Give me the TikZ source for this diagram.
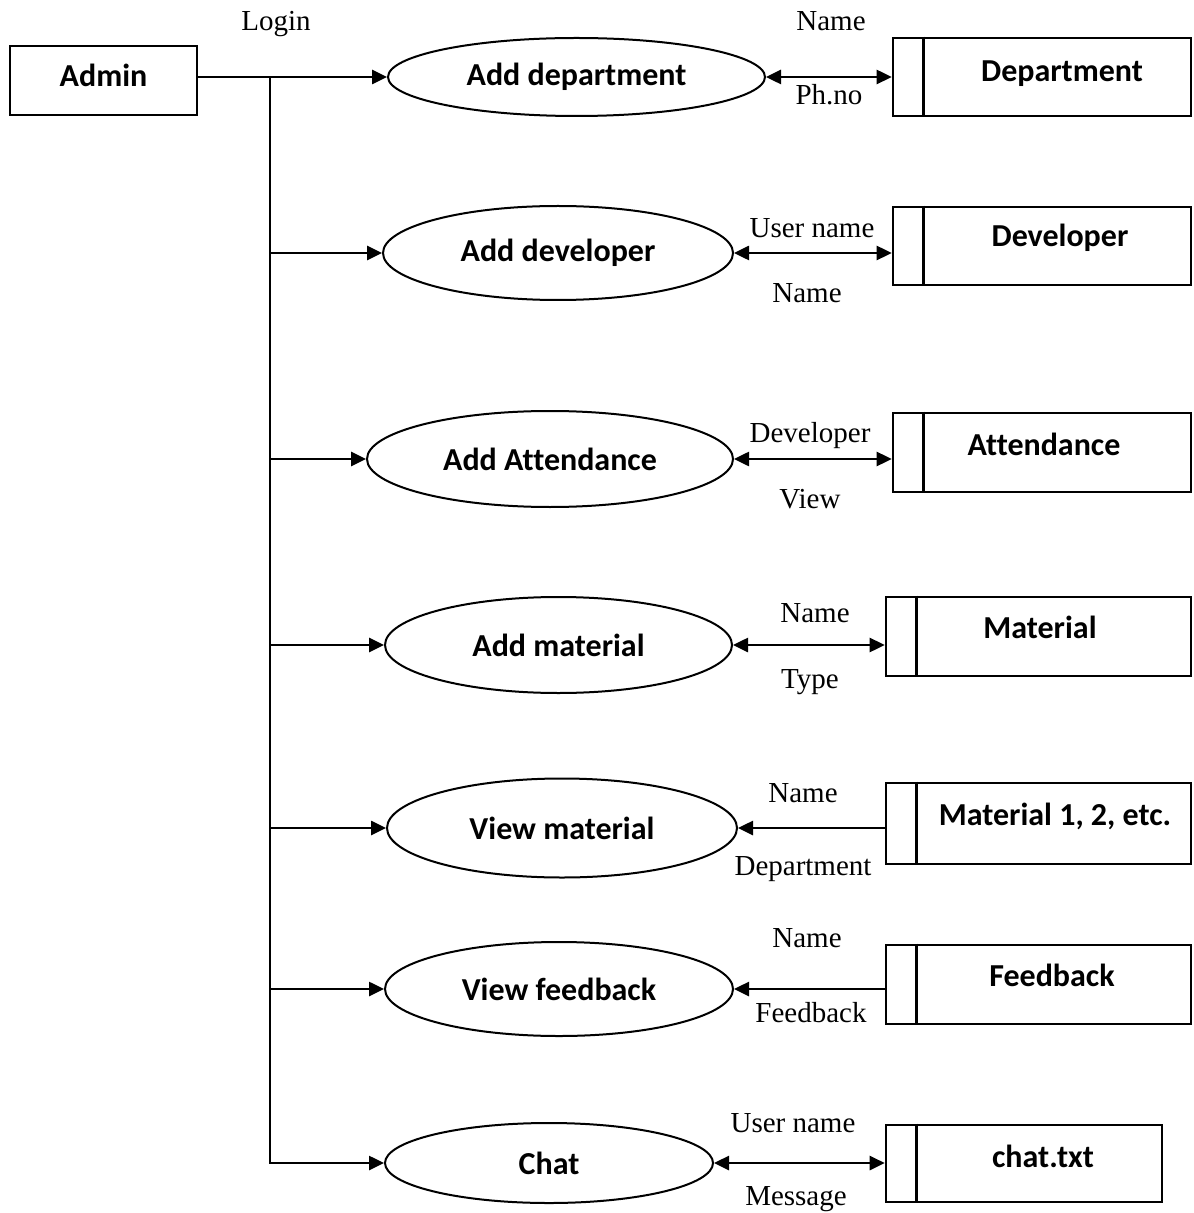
\documentclass[tikz,border=0pt]{standalone}
\usepackage{fontspec}
\setmainfont{Liberation Serif}
\newfontfamily\boldsans[Ligatures=CommonOff]{Carlito}
\usetikzlibrary{arrows.meta,shapes.geometric}

\begin{document}
\begin{tikzpicture}[
    x=0.5pt, y=-0.5pt,
    line width=1.3pt,
    tip/.tip={Triangle[length=7.5pt,width=7pt]},
    flow/.style={-tip},
    twoway/.style={tip-tip},
    ext/.style={draw, rectangle, minimum width=93.5pt, minimum height=34.5pt, inner sep=0pt},
    proc/.style={draw, ellipse, line width=1pt, inner sep=0pt, font=\boldsans\fontsize{16}{18}\selectfont\bfseries},
    store/.style={draw, rectangle, inner sep=0pt},
    storetext/.style={anchor=base, font=\boldsans\fontsize{16}{18}\selectfont\bfseries},
    lbl/.style={anchor=base, font=\fontsize{14.5}{17}\selectfont}
  ]

  \useasboundingbox (0,0) rectangle (1193,1213);

  % external entity
  \node[ext] (admin) at (103.5,80.5) {};
  \node[storetext] (admin-t) at (103.5,87) {Admin};
  \node[lbl] (login) at (276,31) {Login};

  % processes
  \node[proc, minimum width=188.5pt, minimum height=39pt] (adddep) at (576.5,77) {Add department};
  \node[proc, minimum width=175pt, minimum height=47pt] (adddev) at (558,253) {Add developer};
  \node[proc, minimum width=183pt, minimum height=48pt] (addatt) at (550,459) {Add Attendance};
  \node[proc, minimum width=173.5pt, minimum height=48pt] (addmat) at (558.5,645) {Add material};
  \node[proc, minimum width=175pt, minimum height=49.5pt] (viewmat) at (562,828) {View material};
  \node[proc, minimum width=174pt, minimum height=47pt] (viewfb) at (559,989) {View feedback};
  \node[proc, minimum width=164pt, minimum height=40pt] (chat) at (549,1163) {Chat};

  % data stores
  \node[store, minimum width=149pt, minimum height=39pt] (dept) at (1042,77) {};
  \node[store, minimum width=149pt, minimum height=39pt] (dev) at (1042,246) {};
  \node[store, minimum width=149pt, minimum height=39.5pt] (att) at (1042,452.5) {};
  \node[store, minimum width=152.5pt, minimum height=39.5pt] (mat) at (1038.5,636.5) {};
  \node[store, minimum width=152.5pt, minimum height=40.5pt] (matl) at (1038.5,823.5) {};
  \node[store, minimum width=152.5pt, minimum height=39.5pt] (fb) at (1038.5,984.5) {};
  \node[store, minimum width=138pt, minimum height=38.5pt] (chatf) at (1024,1163.5) {};

  \foreach \s in {dept,dev,att,mat,matl,fb,chatf}
    \draw ([xshift=16pt]\s.north west) -- ([xshift=16pt]\s.south west);

  \node[storetext] (dept-t) at (1062,82) {Department};
  \node[storetext] (dev-t) at (1060,247) {Developer};
  \node[storetext] (att-t) at (1044,455) {Attendance};
  \node[storetext] (mat-t) at (1040,638) {Material};
  \node[storetext] (matl-t) at (1055,825) {Material 1, 2, etc.};
  \node[storetext] (fb-t) at (1052,986) {Feedback};
  \node[storetext] (chatf-t) at (1043,1167) {chat.txt};

  % admin to processes
  \coordinate (trunk) at (270,77);
  \draw[flow] (admin.east |- adddep.west) -- (adddep.west);
  \draw (trunk) -- (trunk |- viewfb.west);
  \draw[flow] (trunk |- adddev.west) -- (adddev.west);
  \draw[flow] (trunk |- addatt.west) -- (addatt.west);
  \draw[flow] (trunk |- addmat.west) -- (addmat.west);
  \draw[flow] (trunk |- viewmat.west) -- (viewmat.west);
  \draw[flow] (trunk |- viewfb.west) -- (viewfb.west);
  \draw[flow] (trunk |- viewfb.west) |- (chat.west);

  % processes to stores
  \draw[twoway] (adddep.east) -- (adddep.east -| dept.west);
  \draw[twoway] (adddev.east) -- (adddev.east -| dev.west);
  \draw[twoway] (addatt.east) -- (addatt.east -| att.west);
  \draw[twoway] (addmat.east) -- (addmat.east -| mat.west);
  \draw[flow] (viewmat.east -| matl.west) -- (viewmat.east);
  \draw[flow] (viewfb.east -| fb.west) -- (viewfb.east);
  \draw[twoway] (chat.east) -- (chat.east -| chatf.west);

  % data labels
  \node[lbl] (l1a) at (831,31) {Name};
  \node[lbl] (l1b) at (829,105) {Ph.no};
  \node[lbl] (l2a) at (812,238) {User name};
  \node[lbl] (l2b) at (807,303) {Name};
  \node[lbl] (l3a) at (810,442) {Developer};
  \node[lbl] (l3b) at (810,508) {View};
  \node[lbl] (l4a) at (815,622) {Name};
  \node[lbl] (l4b) at (810,688) {Type};
  \node[lbl] (l5a) at (803,802) {Name};
  \node[lbl] (l5b) at (803,875) {Department};
  \node[lbl] (l6a) at (807,947) {Name};
  \node[lbl] (l6b) at (811,1022) {Feedback};
  \node[lbl] (l7a) at (793,1132) {User name};
  \node[lbl] (l7b) at (796,1205) {Message};

\end{tikzpicture}
\end{document}
